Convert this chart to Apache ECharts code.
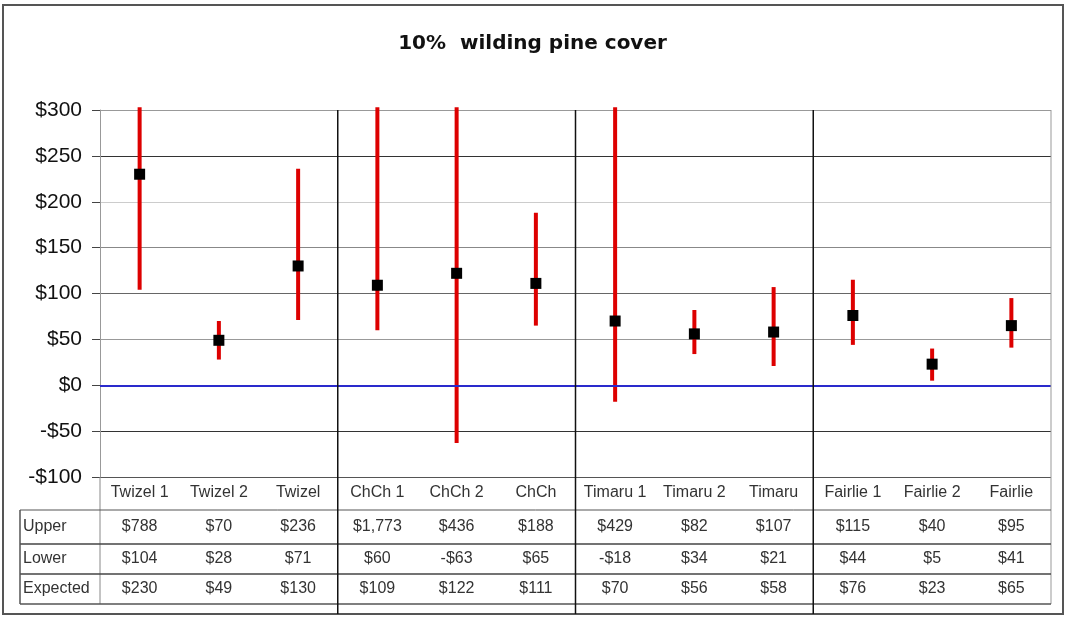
<!DOCTYPE html>
<html><head><meta charset="utf-8">
<script src="https://cdn.jsdelivr.net/npm/echarts@6.0.0/dist/echarts.min.js"></script>
<style>html,body{margin:0;padding:0;background:#fff;}#c{width:1065px;height:621px;}</style>
</head><body><div id="c"></div>
<script>
const categories = ['Twizel 1','Twizel 2','Twizel','ChCh 1','ChCh 2','ChCh','Timaru 1','Timaru 2','Timaru','Fairlie 1','Fairlie 2','Fairlie'];
const upperValues = [788, 70, 236, 1773, 436, 188, 429, 82, 107, 115, 40, 95];
const lowerValues = [104, 28, 71, 60, -63, 65, -18, 34, 21, 44, 5, 41];
const expectedValues = [230, 49, 130, 109, 122, 111, 70, 56, 58, 76, 23, 65];
const rowNames = ['Upper', 'Lower', 'Expected'];
const yMin = -100, yMax = 300, yStep = 50;
const groupSize = 3;

const FONT = '"Liberation Sans", Arial, sans-serif';
const rowArrays = [upperValues, lowerValues, expectedValues];
const rowOffsets = [34, 66, 96];
const rowLineOffsets = [33, 67, 97, 127];

function money(v) {
  return (v < 0 ? '-$' : '$') + Math.abs(v).toLocaleString('en-US');
}

const chart = echarts.init(document.getElementById('c'), null, {renderer: 'canvas'});

const extraAxes = rowArrays.map((arr, k) => ({
  type: 'category', gridIndex: 0, data: categories, position: 'bottom', offset: rowOffsets[k],
  boundaryGap: true,
  axisLine: {show: false}, axisTick: {show: false}, splitLine: {show: false},
  axisLabel: {interval: 0, margin: 8, fontSize: 16, fontFamily: FONT, color: '#333',
    formatter: (v, i) => money(arr[i])}
}));

chart.setOption({
  animation: false,
  backgroundColor: '#fff',
  title: {text: '10%  wilding pine cover', left: 'center', top: 29,
    textStyle: {fontSize: 20, fontWeight: 'bold', fontFamily: '"DejaVu Sans", Verdana, sans-serif', color: '#111'}},
  grid: {left: 100, right: 14, top: 110, bottom: 144, containLabel: false, outerBoundsMode: 'none'},
  xAxis: [{
    type: 'category', data: categories, boundaryGap: true,
    axisLine: {show: false}, axisTick: {show: false}, splitLine: {show: false},
    axisLabel: {interval: 0, margin: 8, fontSize: 16, fontFamily: FONT, color: '#333'}
  }].concat(extraAxes),
  yAxis: {
    type: 'value', min: yMin, max: yMax, interval: yStep,
    axisLine: {show: true, lineStyle: {color: '#999', width: 1}},
    axisTick: {show: true, length: 8, inside: false, lineStyle: {color: '#444'}},
    axisLabel: {margin: 18, fontSize: 21, fontFamily: FONT, color: '#111',
      formatter: v => money(v)},
    splitLine: {show: true, lineStyle: {width: 1,
      color: ['#555', '#333', '#2a2acc', '#999', '#666', '#888', '#ccc', '#333', '#999']}}
  },
  series: [
    {
      type: 'custom', xAxisIndex: 0, yAxisIndex: 0, z: 3,
      data: categories.map((c, i) => [i, lowerValues[i], upperValues[i]]),
      encode: {x: 0, y: [1, 2]},
      renderItem: function (params, api) {
        const x = api.value(0);
        const lo = api.coord([x, api.value(1)]);
        const hi = api.coord([x, Math.min(api.value(2), yMax + 3)]);
        return {type: 'line', shape: {x1: lo[0], y1: lo[1], x2: hi[0], y2: hi[1]},
          style: {stroke: '#dd0000', lineWidth: 4}};
      }
    },
    {
      type: 'scatter', xAxisIndex: 0, yAxisIndex: 0, z: 4,
      data: expectedValues, symbol: 'rect', symbolSize: 11,
      itemStyle: {color: '#000', opacity: 1},
      markLine: {silent: true, symbol: ['none', 'none'], label: {show: false},
        lineStyle: {color: '#2a2acc', width: 2, type: 'solid', opacity: 1},
        data: [{yAxis: 0}]}
    }
  ]
});

// table and frame drawn from the axis scales
const px = i => chart.convertToPixel({xAxisIndex: 0}, i);
const py = v => chart.convertToPixel({yAxisIndex: 0}, v);
const band = px(1) - px(0);
const plotLeft = px(0) - band / 2;
const plotRight = px(categories.length - 1) + band / 2;
const yTop = py(yMax), yBot = py(yMin);
const rowY = rowLineOffsets.map(o => yBot + o);
const tableLeft = 20;
const frameBottom = 614;

const g = [];
const line = (x1, y1, x2, y2, color, w) => g.push({type: 'line', silent: true, z: 10,
  shape: {x1, y1, x2, y2}, style: {stroke: color, lineWidth: w}});

// outer frame
g.push({type: 'rect', silent: true, z: 10, shape: {x: 3, y: 5, width: 1060, height: frameBottom - 5},
  style: {fill: null, stroke: '#555', lineWidth: 2}});
// y axis extension & right border
line(plotLeft, yBot, plotLeft, rowY[3], '#888', 1);
line(plotRight, yTop, plotRight, rowY[3], '#999', 1);
// table box
line(tableLeft, rowY[0], plotRight, rowY[0], '#555', 1);
line(tableLeft, rowY[1], plotRight, rowY[1], '#444', 1.5);
line(tableLeft, rowY[2], plotRight, rowY[2], '#444', 1.5);
line(tableLeft, rowY[3], plotRight, rowY[3], '#555', 1.5);
line(tableLeft, rowY[0], tableLeft, rowY[3], '#555', 1.5);
// group separators
for (let i = groupSize; i < categories.length; i += groupSize) {
  const x = plotLeft + band * i;
  line(x, yTop, x, frameBottom, '#111', 1.5);
}
// row names
rowNames.forEach((name, k) => g.push({type: 'text', silent: true, z: 10,
  style: {text: name, x: tableLeft + 3, y: (rowY[k] + rowY[k + 1]) / 2,
    textVerticalAlign: 'middle', verticalAlign: 'middle', font: '16px ' + FONT, fill: '#333'}}));

chart.setOption({graphic: g});
</script>
</body></html>
